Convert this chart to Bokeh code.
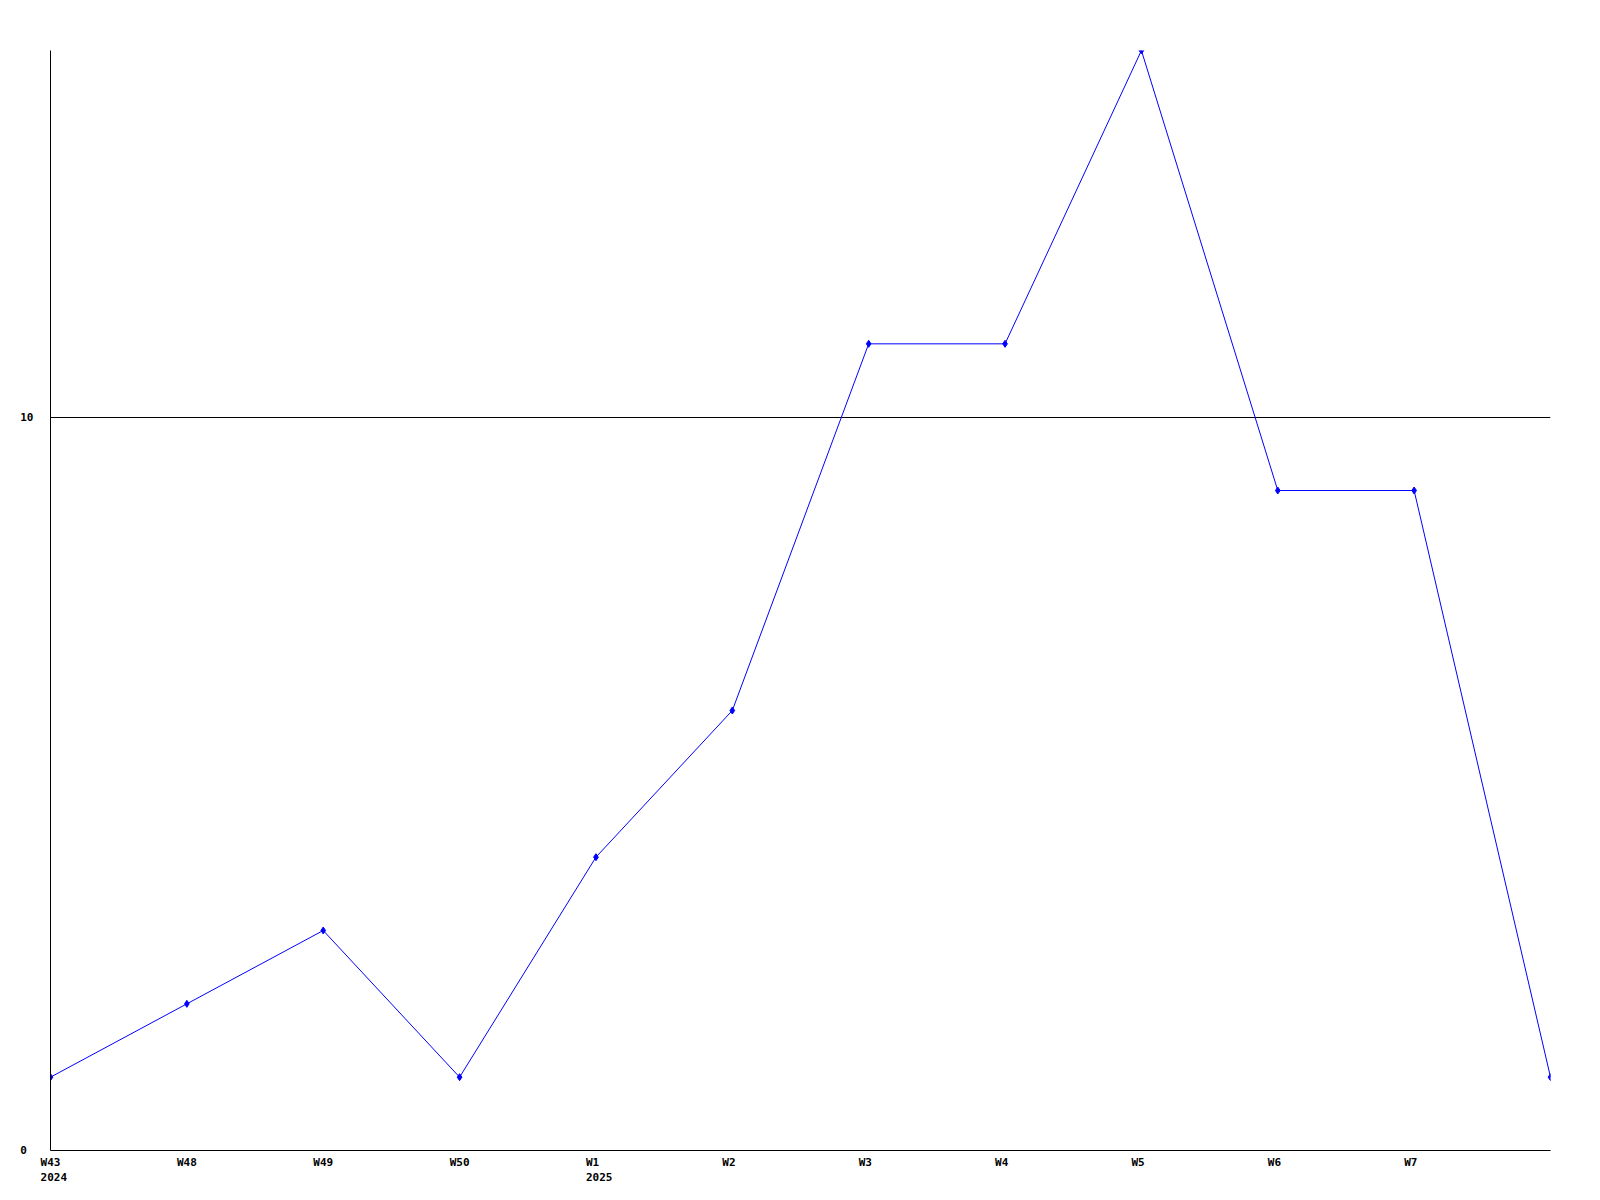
from bokeh.plotting import figure
from bokeh.models import Range1d, FixedTicker, ColumnDataSource, LinearAxis
from bokeh.embed import file_html
from bokeh.resources import INLINE

weeks = ["W43", "W48", "W49", "W50", "W1", "W2", "W3", "W4", "W5", "W6", "W7", ""]
years = ["2024", "", "", "", "2025", "", "", "", "", "", "", ""]
values = [1, 2, 3, 1, 4, 6, 11, 11, 15, 9, 9, 1]
y_ticks = [0, 10]
y_tick_labels = ["0", "10"]

xs = list(range(len(values)))
FW, FH = 1500, 1100
NB = "\u00a0"
# label blocks are padded to 4 monospace chars (~26.5px) and start 10px left of their tick
shift = -3.3 * (len(values) - 1) / FW

p = figure(frame_width=FW, frame_height=FH, output_backend="svg", toolbar_location=None,
           x_range=Range1d(0, len(values) - 1), y_range=Range1d(0, 15),
           x_axis_location=None, y_axis_location=None,
           min_border_left=50, min_border_top=50, min_border_right=10, min_border_bottom=40)
p.outline_line_color = None
p.extra_x_ranges = {"lbl": Range1d(shift, len(values) - 1 + shift)}

font = "DejaVu Sans Mono"

labels = {}
for i, (w, y) in enumerate(zip(weeks, years)):
    if w:
        lines = [w] + ([y] if y else [])
        labels[i] = "\n".join(l + NB * (4 - len(l)) for l in lines)

xl = LinearAxis(x_range_name="lbl", ticker=FixedTicker(ticks=[i for i in xs if weeks[i]]),
                major_label_overrides=labels,
                major_tick_line_color=None, minor_tick_line_color=None, axis_line_color="black",
                major_tick_out=0, major_label_standoff=5,
                major_label_text_font=font,
                major_label_text_font_style="bold", major_label_text_font_size="11px",
                major_label_text_color="black")
ymax_len = max(len(l) for l in y_tick_labels)
ya = LinearAxis(ticker=FixedTicker(ticks=y_ticks),
                major_label_overrides={t: l + NB * (ymax_len - len(l)) for t, l in zip(y_ticks, y_tick_labels)},
                major_tick_line_color=None, minor_tick_line_color=None, axis_line_color="black",
                major_tick_out=0, major_label_standoff=17,
                major_label_text_font=font, major_label_text_font_style="bold",
                major_label_text_font_size="11px", major_label_text_color="black")
p.add_layout(ya, "left")
p.add_layout(xl, "below")

p.xgrid.grid_line_color = None
p.ygrid.ticker = FixedTicker(ticks=[10])
p.ygrid.grid_line_color = "black"
p.ygrid.grid_line_width = 1

src = ColumnDataSource(dict(x=xs, y=values))
p.line("x", "y", source=src, line_color="#0000ff", line_width=1)
p.scatter("x", "y", source=src, marker="diamond", size=7, fill_color="#0000ff", line_color="#0000ff")

open("out.html", "w").write(file_html(p, INLINE))
